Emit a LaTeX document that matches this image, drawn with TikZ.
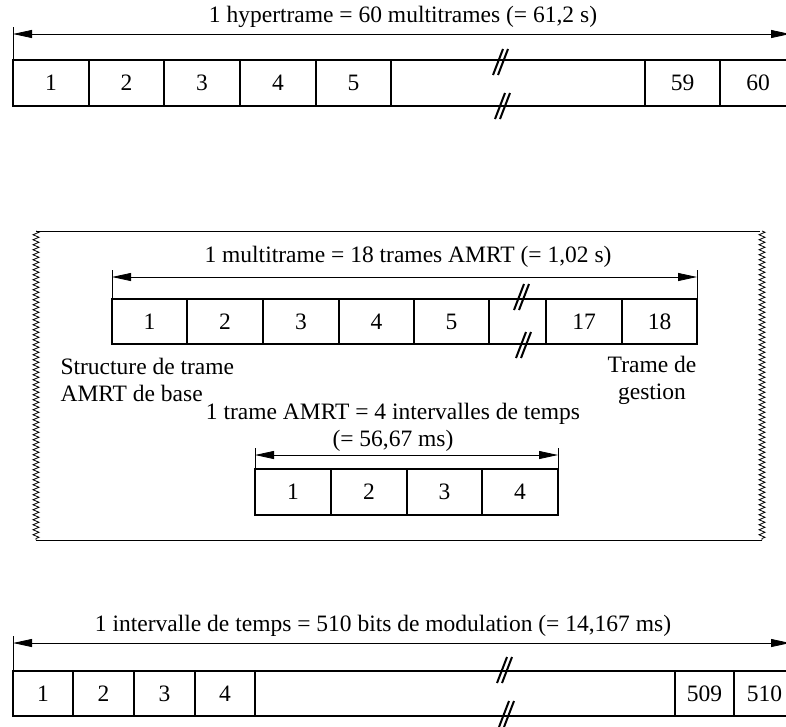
\documentclass[tikz,border=0pt]{standalone}
\usepackage{fontspec}
\setmainfont{Liberation Serif}
\usetikzlibrary{arrows.meta,decorations.pathmorphing}

\tikzset{
  cell/.style={draw,line width=1.3pt,anchor=north west,inner sep=0pt,outer sep=0pt},
  span/.style={{Triangle[length=19pt,width=8pt]}-{Triangle[length=19pt,width=8pt]},line width=0.8pt},
  tick/.style={line width=0.8pt},
  slash/.style={line width=2pt},
  wavy/.style={decorate,decoration={zigzag,segment length=5pt,amplitude=3pt},line width=0.8pt}
}

% double slash marking an omitted stretch of a frame
\newcommand{\breakmark}[2]{%
  \draw[slash] (#1-7,#2+13) -- (#1+3,#2-13);
  \draw[slash] (#1-2,#2+13) -- (#1+8,#2-13);
}

\begin{document}
\begin{tikzpicture}[x=1pt,y=-1pt,font=\fontsize{23.5}{27}\selectfont]
\useasboundingbox (0,0) rectangle (786,726);

% hypertrame
\node (htitle) at (403,17) {1 hypertrame = 60 multitrames (= 61,2 s)};
\foreach \a/\b/\t [count=\i] in {13/89/1,89/164/2,164/240/3,240/316/4,316/391/5,391/645/{},645/720/59,720/796/60} {
  \node[cell,minimum width={(\b-\a)*1pt},minimum height=46pt] (h\i) at (\a,60) {\t};
}
\coordinate (hl) at (13,34);
\coordinate (hr) at (790,34);
\draw[span] (hl) -- (hr);
\draw[tick] (13,27) -- (h1.north west);
\breakmark{500}{62}
\breakmark{502}{106}

% multitrame, inside a torn-off frame
\draw[line width=0.8pt] (36,231) -- (760,231);
\draw[line width=0.8pt] (36,540) -- (762,540);
\draw[wavy] (36,231) -- (36,540);
\draw[wavy] (762,231) -- (762,540);

\node (mtitle) at (408,257) {1 multitrame = 18 trames AMRT (= 1,02 s)};
\foreach \a/\b/\t [count=\i] in {112/187/1,187/263/2,263/339/3,339/414/4,414/489/5,489/546/{},546/622/17,622/697/18} {
  \node[cell,minimum width={(\b-\a)*1pt},minimum height=45pt] (m\i) at (\a,299) {\t};
}
\coordinate (ml) at (112,277);
\coordinate (mr) at (697,277);
\draw[span] (ml) -- (mr);
\draw[tick] (112,270) -- (m1.north west);
\draw[tick] (697,270) -- (m8.north east);
\breakmark{521}{297}
\breakmark{523}{345}

\node[align=left,anchor=west] (base) at (57,380) {Structure de trame\\AMRT de base};
\node[align=center] (gest) at (652,380) {Trame de\\gestion};

% trame AMRT
\node[align=center] (ttitle) at (393,427) {1 trame AMRT = 4 intervalles de temps\\(= 56,67 ms)};
\foreach \a/\b/\t [count=\i] in {255/331/1,331/407/2,407/482/3,482/558/4} {
  \node[cell,minimum width={(\b-\a)*1pt},minimum height=46pt] (t\i) at (\a,469) {\t};
}
\coordinate (tl) at (255,455);
\coordinate (tr) at (558,455);
\draw[span] (tl) -- (tr);
\draw[tick] (255,448) -- (t1.north west);
\draw[tick] (558,448) -- (t4.north east);

% intervalle de temps
\node (ititle) at (383,626) {1 intervalle de temps = 510 bits de modulation (= 14,167 ms)};
\foreach \a/\b/\t [count=\i] in {13/73/1,73/134/2,134/195/3,195/255/4,255/675/{},675/734/509,734/795/510} {
  \node[cell,minimum width={(\b-\a)*1pt},minimum height=45pt] (i\i) at (\a,671) {\t};
}
\coordinate (il) at (13,643);
\coordinate (ir) at (790,643);
\draw[span] (il) -- (ir);
\draw[tick] (13,636) -- (i1.north west);
\breakmark{504}{670}
\breakmark{506}{714}
\end{tikzpicture}
\end{document}
